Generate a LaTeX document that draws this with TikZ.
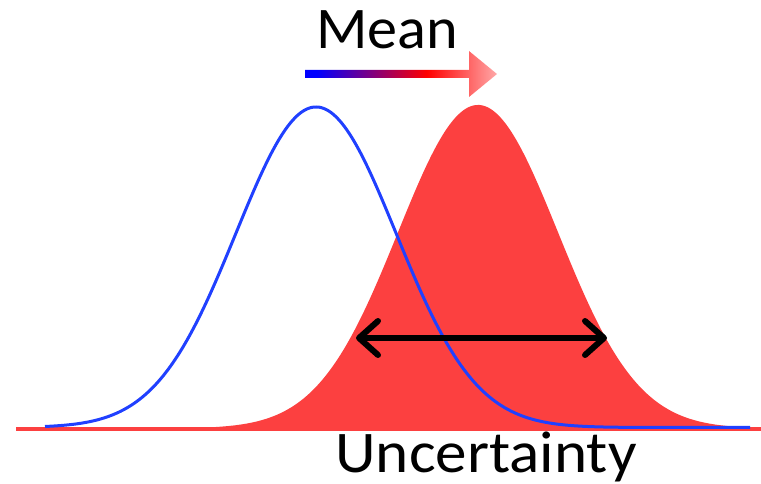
\documentclass[tikz,border=0pt]{standalone}
\usepackage{fontspec}
\setmainfont{Carlito}
\usetikzlibrary{arrows.meta}
\definecolor{redfill}{RGB}{252,64,64}
\definecolor{bluecurve}{RGB}{32,64,255}
\definecolor{pinktip}{RGB}{255,168,168}
\pgfdeclarehorizontalshading{meanshade}{100bp}{color(0bp)=(blue); color(25bp)=(blue); color(28bp)=(blue); color(56.7bp)=(red); color(75bp)=(pinktip); color(100bp)=(pinktip)}
\tikzset{
  lbl/.style={font=\fontsize{59}{60}\selectfont, anchor=base, inner sep=0pt, text=black},
  spread/.style={draw=black, line width=6pt, {Straight Barb[length=19pt,width=34pt,round]}-{Straight Barb[length=19pt,width=34pt,round]}},
}
\begin{document}
\begin{tikzpicture}[x=1pt,y=-1pt]
\useasboundingbox (0,0) rectangle (761,484);
% red baseline
\coordinate (b0) at (16,429);
\coordinate (b1) at (761,429);
\draw[redfill, line width=4pt] (b0) -- (b1);
% red filled gaussian
\fill[redfill] plot[domain=200:761, samples=300] (\x, {428.5 - 323.5*exp(-0.5*((\x-478)/80)^2)}) -- (761,430) -- (200,430) -- cycle;
% blue gaussian
\draw[bluecurve, line width=3pt, line join=round] plot[domain=45:750, samples=300] (\x, {427.5 - 320.5*exp(-0.5*((\x-316)/80)^2)});
% mean arrow
\shade[shading=meanshade] (305,70) -- (469,70) -- (469,51) -- (497,74) -- (469,97) -- (469,78) -- (305,78) -- cycle;
\node[lbl, xscale=1.02] (mean) at (387,49) {Mean};
% uncertainty arrow
\coordinate (ul) at (356,338);
\coordinate (ur) at (607,338);
\draw[spread] (ul) -- (ur);
\node[lbl, xscale=1.07] (unc) at (486,472) {Uncertainty};
\end{tikzpicture}
\end{document}
